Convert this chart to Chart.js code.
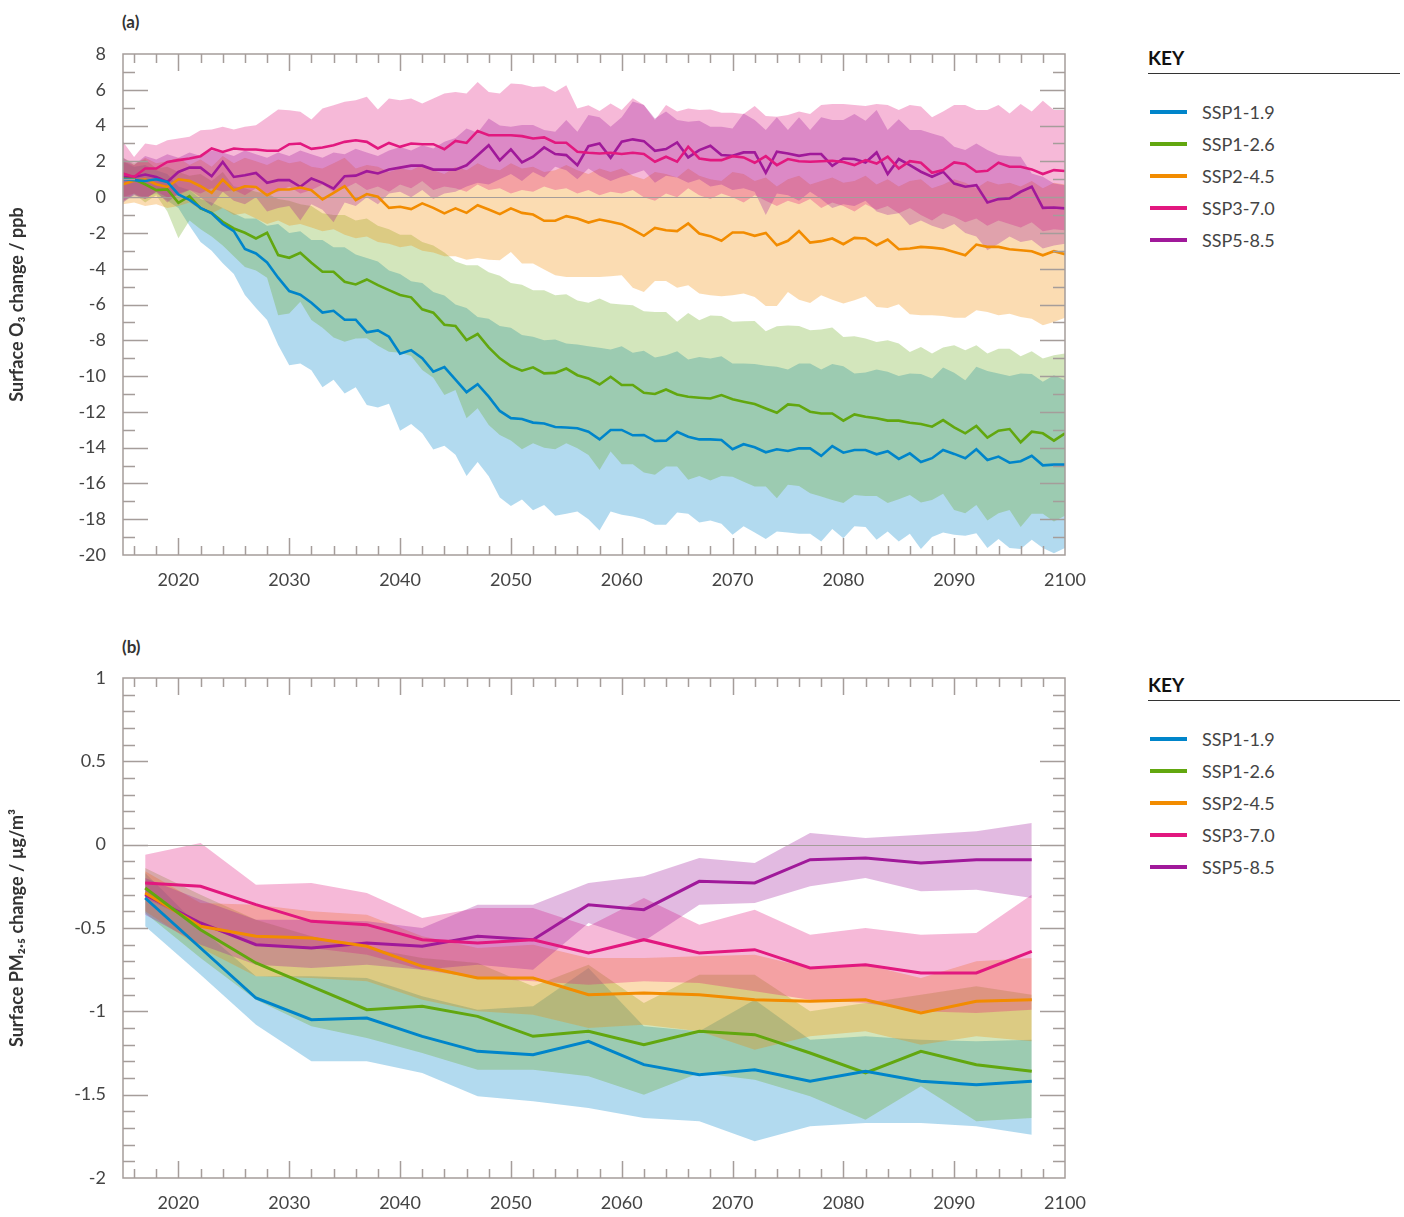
<!DOCTYPE html>
<html>
<head>
<meta charset="utf-8">
<script src="https://cdn.jsdelivr.net/npm/chart.js@4.4.1/dist/chart.umd.min.js"></script>
<style>
  body { margin: 0; background: #fff; font-family: Lato, "Open Sans", sans-serif; }
  #page { position: relative; width: 1404px; height: 1217px; }
  .panel { position: absolute; left: 0; width: 1100px; }
  .tag { position: absolute; left: 122px; font-weight: 700; font-size: 17px; line-height: 20px; color: #333; }
  .key { position: absolute; left: 1148px; width: 252px; }
  .key h4 { margin: 0; font-size: 19px; line-height: 23px; font-weight: 700; color: #111; padding-bottom: 4px; border-bottom: 1.5px solid #333; }
  .key ul { list-style: none; margin: 22px 0 0; padding: 0; }
  .key li { height: 32px; display: flex; align-items: center; font-size: 18px; color: #444; }
  .key li span { display: inline-block; width: 37px; height: 4px; margin: 0 15px 0 2px; }
</style>
</head>
<body>
<div id="page">
  <div class="tag" style="top:12px">(a)</div>
  <div class="panel" style="top:0;height:610px"><canvas id="o3Chart"></canvas></div>
  <div class="key" style="top:46px"><h4>KEY</h4><ul id="keyA"></ul></div>

  <div class="tag" style="top:637px">(b)</div>
  <div class="panel" style="top:624px;height:593px"><canvas id="pmChart"></canvas></div>
  <div class="key" style="top:673px"><h4>KEY</h4><ul id="keyB"></ul></div>
</div>

<script>
// scenarios and colours
const scenarios = ['SSP1-1.9', 'SSP1-2.6', 'SSP2-4.5', 'SSP3-7.0', 'SSP5-8.5'];
const lineColors = ['#0085ca', '#62a70f', '#f28c00', '#e2187f', '#a0199a'];
const bandColors = ['rgba(0,133,202,0.3)', 'rgba(98,167,15,0.28)', 'rgba(242,140,0,0.3)', 'rgba(226,24,127,0.3)', 'rgba(160,25,154,0.3)'];

// tick labels
const xTickLabels = [2020, 2030, 2040, 2050, 2060, 2070, 2080, 2090, 2100];
const o3TickLabels = [8, 6, 4, 2, 0, -2, -4, -6, -8, -10, -12, -14, -16, -18, -20];
const pmTickLabels = [1, 0.5, 0, -0.5, -1, -1.5, -2];

// (a) surface O3 change, yearly
const o3Years = [
  2015, 2016, 2017, 2018, 2019, 2020, 2021, 2022, 2023, 2024,
  2025, 2026, 2027, 2028, 2029, 2030, 2031, 2032, 2033, 2034,
  2035, 2036, 2037, 2038, 2039, 2040, 2041, 2042, 2043, 2044,
  2045, 2046, 2047, 2048, 2049, 2050, 2051, 2052, 2053, 2054,
  2055, 2056, 2057, 2058, 2059, 2060, 2061, 2062, 2063, 2064,
  2065, 2066, 2067, 2068, 2069, 2070, 2071, 2072, 2073, 2074,
  2075, 2076, 2077, 2078, 2079, 2080, 2081, 2082, 2083, 2084,
  2085, 2086, 2087, 2088, 2089, 2090, 2091, 2092, 2093, 2094,
  2095, 2096, 2097, 2098, 2099, 2100
];

const o3Ssp119 = [
  1.0, 0.95, 0.9, 1.0, 0.85, 0.15, -0.15, -0.6, -0.9, -1.5,
  -1.9, -2.9, -3.15, -3.65, -4.5, -5.25, -5.45, -5.9, -6.45, -6.35,
  -6.85, -6.85, -7.55, -7.45, -7.8, -8.75, -8.55, -9.0, -9.75, -9.5,
  -10.2, -10.9, -10.45, -11.15, -11.95, -12.35, -12.4, -12.6, -12.65, -12.85,
  -12.87, -12.92, -13.11, -13.54, -13.01, -13.01, -13.31, -13.29, -13.63, -13.61,
  -13.11, -13.39, -13.54, -13.54, -13.57, -14.09, -13.81, -13.98, -14.26, -14.09,
  -14.19, -14.04, -14.04, -14.46, -13.91, -14.28, -14.13, -14.13, -14.37, -14.2,
  -14.63, -14.32, -14.8, -14.59, -14.13, -14.35, -14.59, -14.09, -14.69, -14.5,
  -14.84, -14.76, -14.46, -14.99, -14.95, -14.95
];
const o3Ssp126 = [
  1.04, 1.0, 0.72, 0.39, 0.43, -0.32, 0.06, -0.63, -0.88, -1.38,
  -1.75, -1.99, -2.31, -1.99, -3.24, -3.39, -3.11, -3.67, -4.17, -4.17,
  -4.73, -4.88, -4.6, -4.92, -5.2, -5.47, -5.6, -6.27, -6.46, -7.13,
  -7.2, -7.99, -7.65, -8.4, -9.01, -9.44, -9.7, -9.51, -9.85, -9.82,
  -9.58, -9.95, -10.13, -10.47, -10.04, -10.5, -10.5, -10.93, -11.0, -10.75,
  -11.03, -11.16, -11.21, -11.25, -11.06, -11.3, -11.43, -11.56, -11.81, -12.05,
  -11.58, -11.64, -11.99, -12.09, -12.09, -12.49, -12.14, -12.27, -12.36, -12.49,
  -12.49, -12.61, -12.68, -12.83, -12.46, -12.87, -13.2, -12.79, -13.44, -13.05,
  -12.96, -13.7, -13.11, -13.2, -13.61, -13.2
];
const o3Ssp245 = [
  0.72, 0.91, 1.0, 0.72, 0.57, 1.0, 0.91, 0.61, 0.24, 0.98,
  0.39, 0.61, 0.57, 0.11, 0.43, 0.43, 0.54, 0.39, -0.13, 0.24,
  0.61, -0.17, 0.17, 0.02, -0.6, -0.54, -0.67, -0.35, -0.6, -0.91,
  -0.63, -0.88, -0.45, -0.69, -0.95, -0.63, -0.88, -0.97, -1.32, -1.32,
  -1.06, -1.19, -1.42, -1.25, -1.38, -1.51, -1.81, -2.16, -1.72, -1.85,
  -1.9, -1.47, -2.03, -2.18, -2.44, -1.98, -1.98, -2.16, -2.0, -2.69,
  -2.44, -1.9, -2.54, -2.46, -2.31, -2.63, -2.28, -2.31, -2.69, -2.37,
  -2.91, -2.87, -2.78, -2.82, -2.89, -3.06, -3.25, -2.65, -2.78, -2.78,
  -2.91, -2.97, -3.02, -3.25, -3.02, -3.19
];
const o3Ssp370 = [
  1.32, 1.13, 1.6, 1.6, 1.97, 2.07, 2.16, 2.29, 2.72, 2.53,
  2.72, 2.66, 2.66, 2.59, 2.59, 2.96, 3.0, 2.7, 2.77, 2.9,
  3.09, 3.18, 3.09, 2.72, 3.03, 2.81, 3.0, 2.96, 2.96, 2.68,
  3.14, 3.03, 3.7, 3.46, 3.46, 3.46, 3.41, 3.28, 3.34, 3.04,
  3.04, 2.54, 2.48, 2.44, 2.48, 2.41, 2.48, 2.41, 1.98, 2.26,
  1.98, 2.82, 2.16, 2.07, 2.07, 2.29, 2.22, 1.92, 2.29, 1.79,
  2.13, 2.01, 1.98, 2.01, 2.03, 1.96, 1.79, 2.07, 1.88, 2.26,
  1.6, 2.01, 1.92, 1.36, 1.51, 1.94, 1.85, 1.42, 1.47, 1.92,
  1.7, 1.7, 1.55, 1.29, 1.51, 1.46
];
const o3Ssp585 = [
  1.13, 1.13, 1.26, 1.13, 0.85, 1.41, 1.65, 1.65, 1.17, 1.97,
  1.13, 1.22, 1.35, 0.8, 0.95, 0.95, 0.58, 1.04, 0.8, 0.48,
  1.17, 1.2, 1.45, 1.32, 1.54, 1.65, 1.76, 1.76, 1.54, 1.54,
  1.54, 1.78, 2.34, 2.9, 2.06, 2.67, 1.94, 2.26, 2.78, 2.41,
  2.35, 1.79, 2.85, 3.0, 2.2, 3.1, 3.23, 3.13, 2.59, 2.69,
  3.06, 2.22, 2.63, 2.87, 2.35, 2.31, 2.5, 2.5, 1.36, 2.54,
  2.44, 2.31, 2.41, 2.41, 1.75, 2.16, 2.13, 1.94, 2.5, 1.29,
  2.13, 1.79, 1.42, 1.14, 1.42, 0.76, 0.58, 0.67, -0.3, -0.11,
  -0.07, 0.3, 0.58, -0.6, -0.58, -0.63
];

// (a) model range, lower and upper edges
const o3Lo119 = [
  -0.3, 0.1, 0.0, 0.2, -0.2, -0.6, -1.6, -2.5, -3.0, -3.7,
  -4.3, -5.47, -6.2, -6.87, -8.27, -9.39, -9.3, -9.67, -10.63, -10.2,
  -10.97, -10.63, -11.62, -11.75, -11.54, -13.05, -12.68, -13.2, -14.1, -13.9,
  -14.4, -15.59, -14.8, -15.6, -16.78, -17.26, -16.9, -17.5, -17.2, -17.8,
  -17.7, -17.57, -18.0, -18.63, -17.57, -17.75, -17.85, -18.0, -18.31, -18.31,
  -17.62, -17.7, -18.18, -18.07, -18.26, -18.87, -18.4, -18.74, -19.11, -18.68,
  -18.74, -18.81, -18.81, -19.24, -18.55, -19.06, -18.4, -18.44, -19.15, -18.68,
  -19.24, -18.81, -19.67, -19.0, -18.74, -18.87, -18.93, -18.78, -19.61, -19.11,
  -19.61, -19.67, -19.15, -19.61, -19.9, -19.61
];
const o3Hi119 = [
  2.0, 1.7, 1.8, 1.5, 1.3, 0.6, 0.4, -0.1, -0.3, -0.6,
  -0.9, -1.2, -1.2, -1.6, -1.5, -2.0, -1.9, -2.4, -2.4, -2.8,
  -2.8, -3.2, -3.4, -3.6, -4.1, -4.3, -4.7, -4.8, -5.3, -5.5,
  -6.0, -6.2, -6.7, -6.8, -7.2, -7.3, -7.7, -7.8, -8.0, -7.95,
  -8.18, -8.24, -8.33, -8.42, -8.52, -8.33, -8.7, -8.59, -8.96, -8.83,
  -8.61, -9.07, -8.93, -9.02, -8.89, -9.3, -9.3, -9.33, -9.43, -9.48,
  -9.63, -9.3, -9.3, -9.63, -9.33, -9.45, -9.86, -9.8, -9.63, -9.76,
  -10.0, -9.86, -9.89, -10.13, -9.52, -9.82, -10.23, -9.48, -9.71, -9.86,
  -10.0, -9.86, -9.89, -10.32, -9.95, -10.23
];
const o3Lo126 = [
  0.0, 0.2, -0.3, 0.1, -0.8, -2.3, -1.3, -1.8, -2.2, -2.7,
  -3.3, -3.9, -4.1, -4.5, -6.6, -6.5, -5.85, -6.87, -7.3, -7.84,
  -8.08, -7.9, -7.89, -8.3, -8.64, -8.7, -8.88, -9.66, -10.1, -11.06,
  -10.78, -12.36, -11.8, -12.74, -13.29, -13.6, -14.09, -13.76, -14.0, -14.09,
  -13.76, -14.04, -14.41, -15.25, -14.22, -14.93, -14.93, -15.39, -15.52, -15.06,
  -15.06, -15.8, -15.58, -15.84, -15.58, -15.62, -15.9, -16.17, -16.17, -16.83,
  -16.08, -16.14, -16.55, -16.73, -16.92, -17.1, -16.64, -16.7, -16.7, -17.1,
  -16.88, -16.64, -17.07, -16.92, -16.58, -17.48, -17.66, -17.2, -18.07, -17.66,
  -17.48, -18.44, -17.7, -17.7, -18.13, -17.81
];
const o3Hi126 = [
  2.2, 1.9, 2.1, 1.6, 1.7, 1.4, 1.2, 1.3, 0.9, 1.4,
  0.6, 0.5, 0.3, 0.2, -0.1, -0.2, -0.4, -0.5, -0.9, -1.0,
  -1.0, -1.3, -1.2, -1.6, -1.8, -2.1, -2.1, -2.5, -2.7, -3.1,
  -3.6, -3.8, -3.8, -4.2, -4.4, -4.8, -4.9, -5.2, -5.2, -5.49,
  -5.43, -5.77, -5.9, -5.67, -5.95, -6.0, -6.04, -6.38, -6.42, -6.42,
  -6.97, -6.47, -6.88, -6.62, -6.64, -6.97, -6.94, -6.92, -7.49, -7.22,
  -7.18, -7.2, -7.44, -7.4, -7.29, -7.81, -7.77, -7.9, -8.09, -8.0,
  -8.18, -8.65, -8.37, -8.74, -8.4, -8.28, -8.55, -8.28, -8.74, -8.48,
  -8.48, -8.89, -8.61, -9.02, -8.83, -8.74
];
const o3Lo245 = [
  -0.4, -0.3, -0.5, -0.4, -0.6, -0.5, -0.3, -0.7, -0.9, -0.6,
  -1.0, -0.9, -1.2, -1.5, -1.3, -1.6, -1.5, -1.7, -1.9, -1.8,
  -2.1, -2.3, -2.2, -2.5, -2.6, -2.8, -2.7, -3.0, -3.1, -3.3,
  -3.3, -3.5, -3.4, -3.5, -3.53, -3.06, -3.71, -3.71, -4.05, -4.37,
  -4.46, -4.46, -4.46, -4.46, -4.42, -4.37, -5.06, -5.3, -4.68, -4.68,
  -5.06, -4.93, -5.39, -5.49, -5.54, -5.49, -5.39, -5.58, -6.08, -6.08,
  -5.3, -5.73, -5.91, -5.49, -5.73, -5.95, -5.76, -5.54, -6.14, -6.19,
  -5.99, -6.55, -6.6, -6.6, -6.64, -6.74, -6.74, -6.32, -6.42, -6.6,
  -6.51, -6.7, -6.79, -7.16, -6.98, -6.74
];
const o3Hi245 = [
  2.0, 1.8, 2.2, 1.9, 2.0, 2.2, 1.8, 2.1, 1.7, 2.3,
  1.9, 2.2, 2.0, 1.8, 2.1, 1.9, 2.0, 1.7, 1.6, 1.9,
  2.2, 1.6, 1.8, 1.7, 1.4, 1.6, 1.5, 1.8, 1.5, 1.3,
  1.7, 1.5, 1.9, 1.6, 1.5, 1.9, 1.6, 1.7, 1.4, 1.5,
  1.8, 1.5, 1.3, 1.6, 1.4, 1.6, 1.2, 1.0, 1.4, 1.3,
  1.1, 1.6, 1.2, 1.0, 0.9, 1.4, 1.3, 0.9, 1.1, 0.6,
  1.0, 1.2, 0.7, 0.9, 1.1, 0.8, 0.9, 1.2, 0.7, 1.0,
  0.6, 0.9, 1.0, 0.5, 0.7, 1.0, 0.8, 0.5, 0.9, 0.7,
  0.8, 0.6, 0.9, 0.5, 0.8, 0.7
];
const o3Lo370 = [
  -0.3, 0.2, -0.1, 0.3, 0.0, 0.1, 0.4, 0.2, 0.5, 0.3,
  0.4, 0.1, 0.5, 0.2, 0.3, 0.6, 0.2, 0.4, 0.7, 0.3,
  0.5, 0.8, 0.4, 0.6, 0.3, 0.7, 0.5, 0.9, 0.4, 0.6,
  0.5, 0.3, 0.7, 0.4, 0.5, 0.2, 0.4, 0.3, 0.6, 0.4,
  0.5, 0.2, 0.4, 0.1, 0.3, 0.2, 0.4, 0.0, -0.2, 0.2,
  0.0, 0.5, 0.1, -0.1, 0.2, 0.0, -0.3, 0.1, -0.2, -0.5,
  -0.2, -0.4, -0.1, -0.6, -0.3, -0.5, -0.8, -0.4, -0.7, -0.5,
  -0.9, -0.6, -1.0, -1.3, -0.9, -1.1, -1.4, -1.2, -1.6, -1.3,
  -1.5, -1.7, -1.4, -1.9, -1.8, -1.85
];
const o3Hi370 = [
  3.09, 2.25, 3.0, 2.9, 3.18, 3.28, 3.37, 3.74, 3.78, 3.93,
  3.78, 3.93, 4.02, 4.45, 4.9, 4.86, 4.77, 4.34, 4.95, 5.14,
  5.33, 5.42, 5.61, 4.9, 5.51, 5.42, 5.51, 5.23, 5.51, 5.79,
  5.88, 5.79, 6.44, 5.88, 5.79, 6.35, 6.31, 6.16, 6.2, 5.88,
  6.25, 4.95, 5.14, 4.82, 5.24, 4.87, 5.52, 5.15, 4.31, 5.15,
  4.78, 4.96, 4.87, 4.9, 4.72, 4.72, 4.65, 5.09, 4.53, 4.5,
  4.59, 4.78, 4.65, 5.15, 5.2, 5.2, 5.15, 5.09, 5.2, 5.15,
  4.87, 5.15, 5.06, 4.46, 4.78, 5.15, 5.15, 4.87, 4.87, 5.15,
  4.68, 5.2, 4.78, 5.39, 4.87, 4.87
];
const o3Lo585 = [
  -0.2, 0.1, -0.1, 0.3, -0.3, 0.2, 0.4, 0.0, -0.5, 0.3,
  -0.2, -0.4, 0.0, -0.8, -0.6, -0.5, -1.3, -0.4, -0.7, -1.4,
  -0.3, -0.5, 0.0, -0.4, 0.2, 0.3, 0.0, 0.4, -0.1, 0.2,
  0.3, 0.6, 0.8, 0.7, 1.0, 1.3, 0.9, 1.4, 1.1, 1.7,
  1.5, 1.0, 1.6, 1.2, 0.9, 1.14, 1.3, 1.5, 0.8, 1.2,
  1.1, 0.8, 1.0, 0.6, 0.7, 0.4, 0.5, 0.3, -1.0, 0.2,
  0.1, -0.2, 0.3, -0.1, -0.6, -0.4, -0.5, -0.2, -0.8, -1.0,
  -0.9, -1.57, -1.3, -1.6, -1.8, -1.5, -2.0, -2.2, -2.97, -2.6,
  -2.2, -2.5, -2.4, -2.87, -2.7, -2.6
];
const o3Hi585 = [
  2.2, 1.8, 2.3, 2.1, 2.4, 2.2, 2.5, 2.3, 2.6, 2.5,
  2.3, 2.6, 2.4, 2.2, 2.5, 2.3, 2.6, 2.4, 2.2, 2.5,
  2.4, 2.7, 2.5, 2.3, 2.6, 2.8, 2.6, 2.9, 2.72, 3.1,
  3.3, 3.84, 3.6, 4.39, 4.0, 3.94, 4.03, 4.03, 3.75, 3.66,
  4.31, 3.66, 4.59, 4.46, 3.94, 4.46, 5.34, 5.15, 4.4, 4.78,
  4.31, 4.22, 4.27, 3.94, 3.94, 3.84, 4.68, 4.31, 3.75, 4.46,
  3.75, 4.46, 3.75, 4.46, 4.31, 4.31, 4.65, 4.27, 4.87, 3.75,
  4.35, 3.75, 3.75, 3.56, 3.38, 2.82, 2.63, 3.0, 2.63, 2.35,
  2.29, 2.26, 1.32, 1.14, 0.76, 0.67
];

// (b) surface PM2.5 change, five-year means
const pmYears = [2017, 2022, 2027, 2032, 2037, 2042, 2047, 2052, 2057, 2062, 2067, 2072, 2077, 2082, 2087, 2092, 2097];

const pmSsp119 = [-0.32, -0.62, -0.92, -1.05, -1.04, -1.15, -1.24, -1.26, -1.18, -1.32, -1.38, -1.35, -1.42, -1.36, -1.42, -1.44, -1.42];
const pmSsp126 = [-0.26, -0.51, -0.71, -0.85, -0.99, -0.97, -1.03, -1.15, -1.12, -1.2, -1.12, -1.14, -1.25, -1.37, -1.24, -1.32, -1.36];
const pmSsp245 = [-0.29, -0.49, -0.55, -0.56, -0.61, -0.73, -0.8, -0.8, -0.9, -0.89, -0.9, -0.93, -0.94, -0.93, -1.01, -0.94, -0.93];
const pmSsp370 = [-0.23, -0.25, -0.36, -0.46, -0.48, -0.57, -0.59, -0.57, -0.65, -0.57, -0.65, -0.63, -0.74, -0.72, -0.77, -0.77, -0.64];
const pmSsp585 = [-0.3, -0.47, -0.6, -0.62, -0.59, -0.61, -0.55, -0.57, -0.36, -0.39, -0.22, -0.23, -0.09, -0.08, -0.11, -0.09, -0.09];

const pmLo119 = [-0.49, -0.78, -1.08, -1.3, -1.3, -1.37, -1.51, -1.54, -1.58, -1.64, -1.66, -1.78, -1.69, -1.67, -1.67, -1.69, -1.74];
const pmHi119 = [-0.17, -0.5, -0.79, -0.79, -0.8, -0.91, -0.99, -0.97, -0.74, -1.09, -1.12, -0.93, -1.17, -1.15, -1.17, -1.18, -1.17];
const pmLo126 = [-0.41, -0.68, -0.93, -1.09, -1.16, -1.25, -1.35, -1.35, -1.39, -1.5, -1.37, -1.41, -1.51, -1.65, -1.45, -1.66, -1.64];
const pmHi126 = [-0.14, -0.3, -0.45, -0.55, -0.62, -0.68, -0.71, -0.85, -0.72, -0.95, -0.78, -0.78, -1.0, -0.95, -0.9, -0.85, -0.9];
const pmLo245 = [-0.4, -0.62, -0.79, -0.8, -0.82, -0.93, -1.0, -1.02, -1.1, -1.08, -1.12, -1.23, -1.15, -1.12, -1.2, -1.15, -1.18];
const pmHi245 = [-0.16, -0.35, -0.36, -0.4, -0.42, -0.55, -0.62, -0.6, -0.68, -0.68, -0.67, -0.66, -0.74, -0.72, -0.8, -0.7, -0.68];
const pmLo370 = [-0.32, -0.48, -0.6, -0.62, -0.66, -0.75, -0.8, -0.82, -0.84, -0.82, -0.83, -0.88, -0.93, -0.95, -1.0, -1.01, -0.99];
const pmHi370 = [-0.06, 0.01, -0.24, -0.23, -0.29, -0.44, -0.38, -0.38, -0.49, -0.32, -0.48, -0.39, -0.54, -0.5, -0.54, -0.53, -0.3];
const pmLo585 = [-0.42, -0.6, -0.72, -0.74, -0.72, -0.75, -0.72, -0.75, -0.47, -0.58, -0.36, -0.35, -0.25, -0.2, -0.28, -0.27, -0.32];
const pmHi585 = [-0.2, -0.33, -0.45, -0.45, -0.46, -0.5, -0.36, -0.36, -0.23, -0.19, -0.08, -0.11, 0.07, 0.04, 0.06, 0.08, 0.13];


Chart.defaults.font.family = 'Lato, "Open Sans", sans-serif';
Chart.defaults.animation = false;

function pts(xs, ys) {
  return xs.map((x, k) => ({ x: x, y: ys[k] }));
}

// box, inward ticks and the zero line
function framePlugin(unit, kMin, kMax, majorEvery) {
  return {
    id: 'frame',
    beforeDatasetsDraw(chart) {
      const { ctx, chartArea: a, scales: { y } } = chart;
      const py = Math.round(y.getPixelForValue(0)) + 0.5;
      ctx.save();
      ctx.strokeStyle = '#a59d9a';
      ctx.lineWidth = 1.2;
      ctx.beginPath();
      ctx.moveTo(a.left, py);
      ctx.lineTo(a.right, py);
      ctx.stroke();
      ctx.restore();
    },
    afterDraw(chart) {
      const { ctx, chartArea: a, scales: { x, y } } = chart;
      ctx.save();
      ctx.strokeStyle = '#a59d9a';
      ctx.lineWidth = 1.5;
      ctx.strokeRect(a.left, a.top, a.right - a.left, a.bottom - a.top);
      ctx.beginPath();
      for (let yr = 2016; yr < 2100; yr += 2) {
        const px = Math.round(x.getPixelForValue(yr)) + 0.5;
        const len = yr % 10 === 0 ? 17 : 9;
        ctx.moveTo(px, a.bottom); ctx.lineTo(px, a.bottom - len);
        ctx.moveTo(px, a.top); ctx.lineTo(px, a.top + len);
      }
      for (let k = kMin + 1; k < kMax; k++) {
        const py = Math.round(y.getPixelForValue(k * unit)) + 0.5;
        const len = k % majorEvery === 0 ? 25 : 12;
        ctx.moveTo(a.left, py); ctx.lineTo(a.left + len, py);
        ctx.moveTo(a.right, py); ctx.lineTo(a.right - len, py);
      }
      ctx.stroke();
      ctx.restore();
    }
  };
}

function buildChart(id, xs, means, los, his, opt) {
  const datasets = [];
  for (let i = 0; i < scenarios.length; i++) {
    datasets.push({
      label: scenarios[i] + ' low', data: pts(xs, los[i]),
      borderColor: 'rgba(0,0,0,0)', borderWidth: 0, pointRadius: 0, fill: false, order: 5 - i
    });
    datasets.push({
      label: scenarios[i] + ' high', data: pts(xs, his[i]),
      borderColor: 'rgba(0,0,0,0)', borderWidth: 0, pointRadius: 0,
      fill: '-1', backgroundColor: bandColors[i], order: 5 - i
    });
  }
  for (let i = 0; i < scenarios.length; i++) {
    datasets.push({
      label: scenarios[i], data: pts(xs, means[i]),
      borderColor: lineColors[i], borderWidth: opt.lineWidth, pointRadius: 0,
      fill: false, tension: 0, order: 0
    });
  }

  new Chart(document.getElementById(id), {
    type: 'line',
    data: { datasets: datasets },
    options: {
      responsive: true,
      maintainAspectRatio: false,
      layout: { padding: { top: opt.top, right: 35, left: 0, bottom: 0 } },
      plugins: {
        legend: { display: false },
        tooltip: { enabled: false },
        filler: { drawTime: 'beforeDatasetsDraw' }
      },
      scales: {
        x: {
          type: 'linear', min: 2015, max: 2100,
          afterBuildTicks: s => { s.ticks = xTickLabels.map(v => ({ value: v })); },
          afterFit: s => { s.height = opt.xHeight; },
          grid: { display: false, drawTicks: false },
          border: { display: false },
          ticks: { padding: 14, color: '#444', font: { size: 18 }, maxRotation: 0, autoSkip: false, callback: v => String(v) }
        },
        y: {
          min: opt.yMin, max: opt.yMax,
          afterBuildTicks: s => { s.ticks = opt.yTicks.map(v => ({ value: v })); },
          afterFit: s => { s.width = 123; },
          grid: { display: false, drawTicks: false },
          border: { display: false },
          ticks: { padding: 17, color: '#444', font: { size: 18 }, autoSkip: false, callback: v => String(v) },
          title: { display: true, text: opt.title, color: '#333', font: { size: 18, weight: 'bold' }, padding: { top: 6, bottom: 0 } }
        }
      }
    },
    plugins: [framePlugin(opt.unit, opt.kMin, opt.kMax, opt.majorEvery)]
  });
}

buildChart('o3Chart', o3Years,
  [o3Ssp119, o3Ssp126, o3Ssp245, o3Ssp370, o3Ssp585],
  [o3Lo119, o3Lo126, o3Lo245, o3Lo370, o3Lo585],
  [o3Hi119, o3Hi126, o3Hi245, o3Hi370, o3Hi585],
  { top: 54, xHeight: 55, yMin: -20, yMax: 8, yTicks: o3TickLabels, lineWidth: 2.6,
    unit: 1, kMin: -20, kMax: 8, majorEvery: 2, title: 'Surface O\u2083 change / ppb' });

buildChart('pmChart', pmYears,
  [pmSsp119, pmSsp126, pmSsp245, pmSsp370, pmSsp585],
  [pmLo119, pmLo126, pmLo245, pmLo370, pmLo585],
  [pmHi119, pmHi126, pmHi245, pmHi370, pmHi585],
  { top: 54, xHeight: 39, yMin: -2, yMax: 1, yTicks: pmTickLabels, lineWidth: 3,
    unit: 0.1, kMin: -20, kMax: 10, majorEvery: 5, title: 'Surface PM\u2082.\u2085 change / \u00b5g/m\u00b3' });

// legends
['keyA', 'keyB'].forEach(id => {
  const ul = document.getElementById(id);
  scenarios.forEach((name, i) => {
    const li = document.createElement('li');
    li.innerHTML = '<span style="background:' + lineColors[i] + '"></span>' + name;
    ul.appendChild(li);
  });
});
</script>
</body>
</html>
